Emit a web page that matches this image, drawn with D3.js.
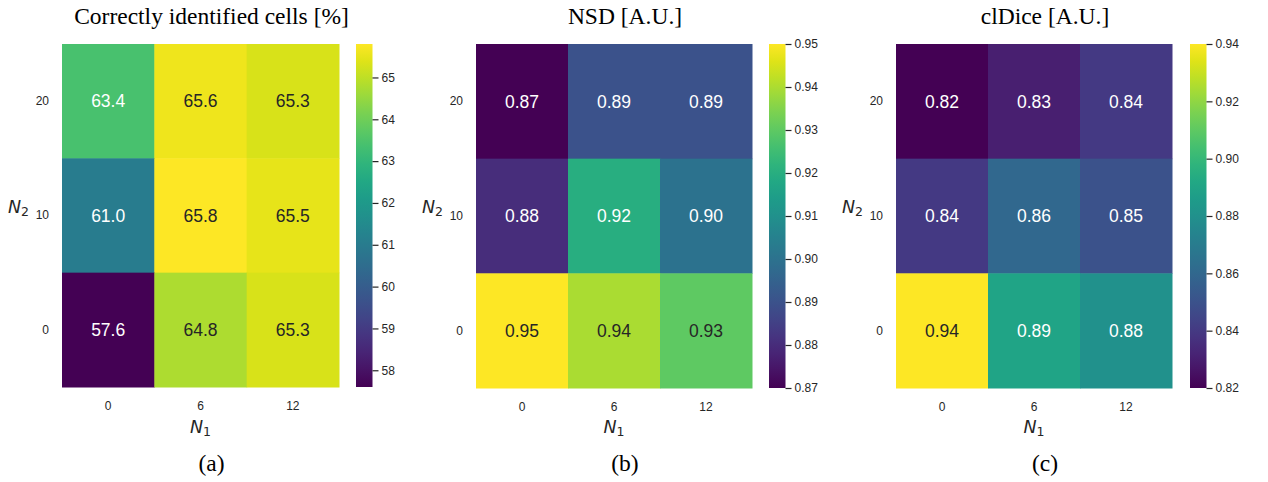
<!DOCTYPE html>
<head>
<meta charset="utf-8">
</head>
<style>
  body {
    margin: 0;
    background: #fff;
    font-family: 'Liberation Sans', Arial, sans-serif;
  }
  .tick text {
    fill: #262626;
  }
  .axis .domain {
    display: none;
  }
</style>
<svg width="1268" height="482"></svg>
<script src="https://d3js.org/d3.v7.min.js"></script>
<script>
// data
var n1Labels = ["0", "6", "12"];
var n2Labels = ["20", "10", "0"];   // rows top to bottom

var cellsValues = [
  [63.4, 65.6, 65.3],
  [61.0, 65.8, 65.5],
  [57.6, 64.8, 65.3]
];
var nsdValues = [
  [0.87, 0.89, 0.89],
  [0.88, 0.92, 0.90],
  [0.95, 0.94, 0.93]
];
var cldiceValues = [
  [0.82, 0.83, 0.84],
  [0.84, 0.86, 0.85],
  [0.94, 0.89, 0.88]
];

var cellsTicks = [58, 59, 60, 61, 62, 63, 64, 65];
var nsdTicks = [0.87, 0.88, 0.89, 0.90, 0.91, 0.92, 0.93, 0.94, 0.95];
var cldiceTicks = [0.82, 0.84, 0.86, 0.88, 0.90, 0.92, 0.94];

var titles = ["Correctly identified cells [%]", "NSD [A.U.]", "clDice [A.U.]"];
var captions = ["(a)", "(b)", "(c)"];

var panels = [
  {values: cellsValues, ticks: cellsTicks, fmt: ".1f", tfmt: "d",   left: 62,  right: 339,  top: 44, bottom: 387, cbLeft: 356},
  {values: nsdValues,   ticks: nsdTicks,   fmt: ".2f", tfmt: ".2f", left: 476, right: 752,  top: 44, bottom: 388, cbLeft: 769},
  {values: cldiceValues, ticks: cldiceTicks, fmt: ".2f", tfmt: ".2f", left: 896, right: 1172, top: 44, bottom: 388, cbLeft: 1190}
];

var svg = d3.select("svg");

// seaborn picks dark or white text from the cell luminance
function textColor(c) {
  var rgb = d3.rgb(c);
  var lin = [rgb.r, rgb.g, rgb.b].map(function(v) {
    v = v / 255;
    return v <= 0.03928 ? v / 12.92 : Math.pow((v + 0.055) / 1.055, 2.4);
  });
  var lum = 0.2126 * lin[0] + 0.7152 * lin[1] + 0.0722 * lin[2];
  return lum > 0.408 ? "#262626" : "#fff";
}

panels.forEach(function(p, pi) {
  var g = svg.append("g");
  var flat = d3.merge(p.values);
  var vmin = d3.min(flat), vmax = d3.max(flat);

  var x = d3.scaleBand().domain(n1Labels).range([p.left, p.right]);
  var y = d3.scaleBand().domain(n2Labels).range([p.top, p.bottom]);
  var color = d3.scaleSequential(d3.interpolateViridis).domain([vmin, vmax]);

  var cells = [];
  p.values.forEach(function(row, ri) {
    row.forEach(function(v, ci) {
      cells.push({n2: n2Labels[ri], n1: n1Labels[ci], value: v});
    });
  });

  g.selectAll("rect.cell")
    .data(cells)
    .enter().append("rect")
      .attr("class", "cell")
      .attr("x", function(d) { return x(d.n1); })
      .attr("y", function(d) { return y(d.n2); })
      .attr("width", x.bandwidth() + 0.5)
      .attr("height", y.bandwidth() + 0.5)
      .attr("fill", function(d) { return color(d.value); });

  g.selectAll("text.annot")
    .data(cells)
    .enter().append("text")
      .attr("class", "annot")
      .attr("x", function(d) { return x(d.n1) + x.bandwidth() / 2; })
      .attr("y", function(d) { return y(d.n2) + y.bandwidth() / 2; })
      .attr("dy", "0.36em")
      .attr("text-anchor", "middle")
      .attr("font-size", 17.5)
      .attr("fill", function(d) { return textColor(color(d.value)); })
      .text(function(d) { return d3.format(p.fmt)(d.value); });

  // axes
  g.append("g")
      .attr("class", "axis")
      .attr("transform", "translate(0," + p.bottom + ")")
      .call(d3.axisBottom(x).tickSize(0).tickPadding(14))
      .attr("font-size", 12)
      .attr("font-family", "'Liberation Sans', Arial, sans-serif");

  g.append("g")
      .attr("class", "axis")
      .attr("transform", "translate(" + p.left + ",0)")
      .call(d3.axisLeft(y).tickSize(0).tickPadding(13))
      .attr("font-size", 12)
      .attr("font-family", "'Liberation Sans', Arial, sans-serif");

  var cx = (p.left + p.right) / 2;

  // N1 label
  var n1 = g.append("text")
      .attr("x", cx)
      .attr("y", 433)
      .attr("text-anchor", "middle")
      .attr("font-family", "'DejaVu Sans', sans-serif")
      .attr("fill", "#262626");
  n1.append("tspan").attr("font-style", "italic").attr("font-size", 17.5).text("N");
  n1.append("tspan").attr("font-size", 12.5).attr("dy", 3).text("1");

  // N2 label
  var n2 = g.append("text")
      .attr("x", p.left - 54)
      .attr("y", (p.top + p.bottom) / 2 - 3)
      .attr("font-family", "'DejaVu Sans', sans-serif")
      .attr("fill", "#262626");
  n2.append("tspan").attr("font-style", "italic").attr("font-size", 17.5).text("N");
  n2.append("tspan").attr("font-size", 12.5).attr("dy", 3).text("2");

  // colorbar
  var cbW = 16.5;
  var cy = d3.scaleLinear().domain([vmin, vmax]).range([p.bottom, p.top]);
  var gradId = "grad" + pi;
  var grad = svg.append("defs").append("linearGradient")
      .attr("id", gradId)
      .attr("x1", 0).attr("y1", 1).attr("x2", 0).attr("y2", 0);
  d3.range(0, 1.0001, 0.05).forEach(function(t) {
    grad.append("stop")
        .attr("offset", t)
        .attr("stop-color", d3.interpolateViridis(t));
  });
  g.append("rect")
      .attr("x", p.cbLeft)
      .attr("y", p.top)
      .attr("width", cbW)
      .attr("height", p.bottom - p.top)
      .attr("fill", "url(#" + gradId + ")");

  var cbAxis = g.append("g")
      .attr("class", "axis cb")
      .attr("transform", "translate(" + (p.cbLeft + cbW) + ",0)")
      .call(d3.axisRight(cy).tickValues(p.ticks).tickSize(6).tickPadding(3).tickFormat(d3.format(p.tfmt)))
      .attr("font-size", 12)
      .attr("font-family", "'Liberation Sans', Arial, sans-serif");
  cbAxis.selectAll(".tick line").attr("stroke", "#262626").attr("stroke-width", 1.2);

  // title and caption
  g.append("text")
      .attr("x", cx + 11)
      .attr("y", 24)
      .attr("text-anchor", "middle")
      .attr("font-family", "'Liberation Serif', 'Times New Roman', serif")
      .attr("font-size", 23.5)
      .attr("fill", "#000")
      .text(titles[pi]);

  g.append("text")
      .attr("x", cx + 11)
      .attr("y", 471)
      .attr("text-anchor", "middle")
      .attr("font-family", "'Liberation Serif', 'Times New Roman', serif")
      .attr("font-size", 23.5)
      .attr("fill", "#000")
      .text(captions[pi]);
});
</script>
